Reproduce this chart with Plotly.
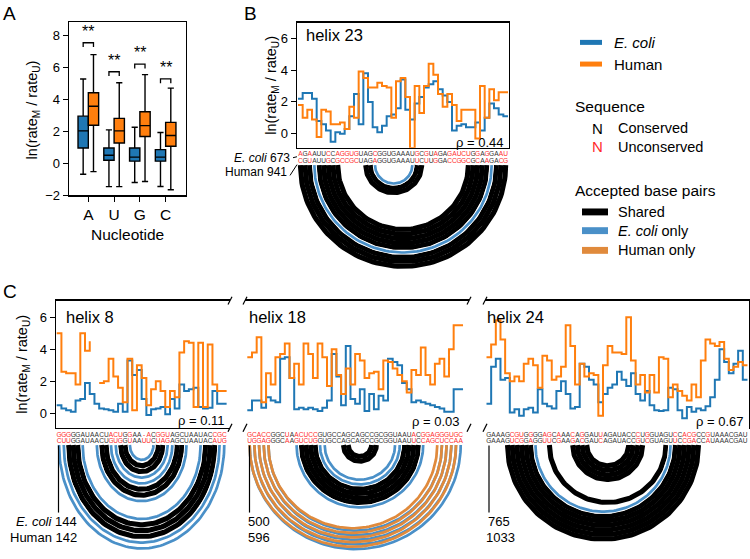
import plotly.graph_objects as go
import numpy as np

W, H = 750, 559
FONT = "Liberation Sans, Arial, sans-serif"
BLUE = "#1f77b4"
ORANGE = "#ff7f0e"
ARC_BLUE = "#4a90c8"
ARC_ORANGE = "#e08a3c"
RED = "#ff2b2b"
SEQ_BLACK = "#333333"

# ---------------- Panel A data ----------------
nucleotides = ["A", "U", "G", "C"]
ecoli_lower = [-0.68, -1.45, -1.19, -1.44]
ecoli_q1 = [0.96, 0.20, 0.14, 0.14]
ecoli_median = [2.03, 0.51, 0.39, 0.39]
ecoli_q3 = [2.95, 0.96, 0.96, 0.86]
ecoli_upper = [5.27, 2.09, 2.26, 1.93]
human_lower = [-0.51, -1.45, -1.13, -1.64]
human_q1 = [2.38, 1.27, 1.68, 1.07]
human_median = [3.57, 2.03, 2.36, 1.74]
human_q3 = [4.41, 2.81, 3.22, 2.56]
human_upper = [6.79, 5.03, 5.54, 4.70]
sig_labels = ["**", "**", "**", "**"]
sig_y = [7.53, 5.72, 6.19, 5.27]

# ---------------- Panel B data (helix 23) ----------------
B_ecoli_seq = "AGAAUUCCAGGUGUAGCGGUGAAAUGCGUAGAGAUCUGGAGGAAU"
B_human_seq = "CGUAUUGCGCCGCUAGAGGUGAAAUUCUUGGACCGGCGCAAGACG"
B_ecoli = [2.2, 2.55, 2.55, 2.2, 0.8, 0.6, 0.2, -0.5, 0.1, 0.0,
           0.3, 1.1, 2.5, 0.6, 3.8, 2.0, 0.4, 0.1, 0.5, 1.1,
           1.2, 1.6, 3.4, 1.5, 0.9, 1.9, 2.3, 2.9, 3.1, 3.3,
           2.8, 2.4, 2.0, 0.2, 0.5, 0.6, 0.4, 0.4, 0.7, 0.2,
           1.0, 1.9, 1.6, 1.2, 1.1]
B_human = [1.8, 1.0, 1.5, 0.9, -0.2, 1.5, 1.4, 0.6, 0.6, 0.7,
           0.3, 1.7, 1.0, 3.9, 3.5, 2.9, 2.9, 3.2, 3.0, 2.9,
           1.0, 3.3, 3.5, 2.3, -0.9, 3.0, 1.3, 3.0, 4.4, 3.7,
           2.5, 1.7, 2.5, 1.8, 0.8, 1.5, 1.5, 1.5, -0.3, 3.0,
           1.0, 2.8, 2.1, 2.6, 2.6]
B_shared_pairs = [(1, 45), (2, 44), (3, 43), (5, 41), (6, 40), (7, 39), (8, 38), (9, 37),
                  (15, 27), (16, 26)]
B_ecoli_pairs = [(4, 42), (17, 25)]
B_human_pairs = []

# ---------------- Panel C data ----------------
C1_ecoli_seq = "GGGGGAUAACUACUGGAA-ACGGUAGCUAAUACCGC"
C1_human_seq = "CUUGGAUAACUGUGGUAAUUCUAGAGCUAAUACAUG"
C1_ecoli = [0.5, 0.3, 0.2, 0.1, 0.8, 0.9, 1.9, 1.2, 0.6, 0.3,
            0.25, 0.2, 0.1, 0.6, 0.1, 3.3, 2.4, 2.7, 0.9, -0.1,
            0.25, 0.3, 0.4, -0.05, 0.9, 0.3, 1.8, 1.4, 1.5, 1.6,
            0.4, 0.3, 0.35, 1.4, 0.6, 0.6]
C1_human = [5.0, 2.6, 2.5, 2.5, 1.8, 5.0, 3.9, 4.5, None, 1.9,
            2.0, 3.4, 2.3, 1.6, 0.7, 3.4, 0.2, 3.0, 2.2, 0.5,
            1.5, 2.0, 1.4, 0.4, 1.4, 1.0, 3.8, 4.5, 4.4, 0.4,
            4.4, 0.4, 4.3, 1.8, 1.4, 1.4]
C1_shared_pairs = [(3, 34), (4, 33), (5, 32), (10, 27), (11, 26), (14, 23), (15, 22)]
C1_ecoli_pairs = [(1, 36), (2, 35), (6, 31), (9, 28), (12, 25), (13, 24), (16, 21)]
C1_human_pairs = []

C2_ecoli_seq = "GCACCGGCUAACUCCGUGCCAGCAGCCGCGGUAAUACGGAGGGUGC"
C2_human_seq = "UGGAGGGCAAGUCUGGUGCCAGCAGCCGCGGUAAUUCCAGCUCCAA"
C2_ecoli = [0.2, 0.8, 0.8, 0.35, 1.0, 0.8, 0.7, 3.4, 3.5, 2.2,
            0.25, 0.35, 0.25, 0.35, 0.25, 0.15, 0.35, 0.8, 3.7, 2.3,
            0.5, 4.2, 0.9, 0.6, 1.5, 0.15, 1.2, 0.25, 1.1, 0.8,
            3.4, 3.2, 3.0, 1.9, 1.5, 0.7, 0.8, 0.7, 0.6, 0.5,
            0.4, 0.3, 0.1, 0.1, 1.5, 1.5]
C2_human = [3.5, 3.8, 4.75, 0.7, 2.5, 1.8, 3.5, 3.7, 4.35, 2.2,
            3.1, 1.8, 4.35, 3.7, 2.2, 4.35, 3.5, 1.7, 4.0, 2.4,
            1.2, 2.8, 1.8, 3.7, 3.3, 2.2, 2.5, 2.6, 1.5, 3.3,
            3.2, 2.8, 2.4, 2.0, 1.3, 2.7, 2.4, 4.1, 2.4, 1.8,
            3.1, 3.4, 2.3, 4.0, 5.5, 5.5]
C2_shared_pairs = [(12, 37), (13, 36), (14, 35), (15, 34), (21, 28), (22, 27)]
C2_ecoli_pairs = [(1, 46), (2, 45), (3, 44), (4, 43), (5, 42), (11, 38), (16, 33), (17, 32)]
C2_human_pairs = [(1, 45), (2, 44), (3, 43), (4, 42), (5, 41)]

C3_ecoli_seq = "GAAAGCGUGGGGAGCAAACAGGAUUAGAUACCCUGGUAGUCCACGCCGUAAACGAU"
C3_human_seq = "GAAAGUCGGAGGUUCGAAGACGAUCAGAUACCGUCGUAGUUCCGACCAUAAACGAU"
C3_ecoli = [0.6, 2.9, 3.4, 2.1, 2.2, 0.05, 0.25, -0.15, 0.25, 0.35,
            0.05, 1.5, 0.6, 0.45, 0.3, 1.4, 2.0, 1.2, 0.3, 0.4,
            3.1, 2.9, 2.1, 1.8, 0.7, 1.2, 1.6, 1.8, 2.6, 2.1,
            1.7, 2.5, 1.2, 0.8, 1.4, 0.5, 0.2, 0.15, 0.2, 1.6,
            1.5, 0.2, -0.3, 0.4, 0.1, 0.3, 0.2, 0.45, 1.0, 2.1,
            4.0, 3.2, 2.5, 3.1, 3.9, 2.1]
C3_human = [3.5, 4.3, 5.8, 4.6, 2.5, 2.0, 2.3, 2.0, 3.1, 3.4,
            3.0, 1.6, 3.6, 3.3, 2.1, 2.3, 2.9, 5.5, 4.2, 1.8,
            3.1, 2.3, 2.5, 2.4, -0.15, 3.0, 4.2, 3.8, 3.8, 3.7,
            6.0, 3.3, 1.8, 2.4, 1.3, 2.4, 1.3, 3.5, 3.4, 1.0,
            1.8, 1.4, 1.1, 0.8, 1.8, 1.0, 3.3, 4.6, 4.35, 4.2,
            4.45, 3.4, 2.7, 2.9, 3.2, 3.0]
C3_shared_pairs = [(5, 46), (6, 45), (7, 44), (8, 43), (9, 42), (10, 41), (14, 39),
                   (19, 34), (20, 33), (21, 32), (22, 31)]
C3_ecoli_pairs = [(11, 40)]
C3_human_pairs = []

helix_names = ["helix 23", "helix 8", "helix 18", "helix 24"]
rho_labels = ["ρ = 0.44", "ρ = 0.11", "ρ = 0.03", "ρ = 0.67"]
ecoli_starts = ["673", "144", "500", "765"]
human_starts = ["941", "142", "596", "1033"]
ytick_vals = [0, 2, 4, 6]

# ---------------- helpers ----------------
def xd(a, b):
    return [a / W, b / W]

def yd(top, bottom):
    return [1 - bottom / H, 1 - top / H]

fig = go.Figure()
layout = dict(width=W, height=H, margin=dict(l=0, r=0, t=0, b=0),
              paper_bgcolor="white", plot_bgcolor="white", showlegend=False,
              font=dict(family=FONT, color="black"))
shapes = []
annotations = []

def ax_name(k, kind):
    return kind + ("" if k == 1 else str(k))

def hidden_axis(**kw):
    d = dict(showline=False, showgrid=False, zeroline=False, ticks="",
             showticklabels=False, fixedrange=True)
    d.update(kw)
    return d

def ptext(x, y, text, size, xanchor="left", color="black", yanchor="middle", angle=0):
    annotations.append(dict(x=x / W, y=1 - y / H, xref="paper", yref="paper", text=text,
                            showarrow=False, xanchor=xanchor, yanchor=yanchor, textangle=angle,
                            align=xanchor, borderpad=0,
                            font=dict(size=size, color=color)))

# ---------------- Panel A ----------------
xA = [i - 0.2 for i in range(4)]
xA2 = [i + 0.2 for i in range(4)]
fig.add_trace(go.Box(x=xA, q1=ecoli_q1, median=ecoli_median, q3=ecoli_q3,
                     lowerfence=ecoli_lower, upperfence=ecoli_upper, width=0.4,
                     fillcolor=BLUE, line=dict(color="black", width=1.4),
                     whiskerwidth=0.6, boxpoints=False, xaxis="x", yaxis="y"))
fig.add_trace(go.Box(x=xA2, q1=human_q1, median=human_median, q3=human_q3,
                     lowerfence=human_lower, upperfence=human_upper, width=0.4,
                     fillcolor=ORANGE, line=dict(color="black", width=1.4),
                     whiskerwidth=0.6, boxpoints=False, xaxis="x", yaxis="y"))
layout["xaxis"] = dict(domain=xd(69, 186), range=[-0.75, 3.79], tickvals=[0, 1, 2, 3],
                       ticktext=nucleotides, ticks="outside", ticklen=5, tickcolor="black",
                       showline=True, mirror=True, linecolor="black", linewidth=1.3,
                       showgrid=False, zeroline=False, tickfont=dict(size=15.5),
                       anchor="y", fixedrange=True)
layout["yaxis"] = dict(domain=yd(22.7, 198.3), range=[-2, 8.8], tickvals=[-2, 0, 2, 4, 6, 8],
                       ticks="outside", ticklen=5, tickcolor="black", showline=True,
                       mirror=True, linecolor="black", linewidth=1.3, showgrid=False,
                       zeroline=False, tickfont=dict(size=13), anchor="x", fixedrange=True)
for i in range(4):
    y0 = sig_y[i]
    shapes.append(dict(type="path", xref="x", yref="y",
                       path=f"M {xA[i]} {y0-0.27} L {xA[i]} {y0} L {xA2[i]} {y0} L {xA2[i]} {y0-0.27}",
                       line=dict(color="black", width=1.3)))
    annotations.append(dict(x=i, y=y0 + 0.05, xref="x", yref="y", text=sig_labels[i],
                            showarrow=False, xanchor="center", yanchor="bottom", font=dict(size=16)))
ptext(127.5, 238, "Nucleotide", 15.5, xanchor="center")
ptext(33, 112, "ln(rate<sub>M</sub> / rate<sub>U</sub>)", 14.5, xanchor="center", angle=-90)

# ---------------- step + arc panels ----------------
def step_xy(vals):
    xs = [i + 0.5 for i in range(len(vals) + 1)]
    ys = [(np.nan if v is None else v) for v in vals] + [vals[-1]]
    return xs, ys

def arc_xy(pairs, vscale):
    xs, ys = [], []
    th = np.linspace(0, np.pi, 90)
    for (i, j) in pairs:
        c = (i + j) / 2.0
        r = (j - i) / 2.0
        xs += list(c - r * np.cos(th)) + [None]
        ys += list(-r * np.sin(th) * vscale) + [None]
    return xs, ys

def make_panel(k, pxl, pxr, nt_left_px, ppn, top, bottom, yrange, ecoli_vals, human_vals,
               ecoli_seq, human_seq, shared, eco_only, hum_only, arcs_top, row1, row2,
               vscale, showy, style):
    xr = [0.5 - (nt_left_px - pxl) / ppn, 0.5 + (pxr - nt_left_px) / ppn]
    xa = ax_name(k, "x"); ya = ax_name(k, "y")
    xa2 = ax_name(k + 1, "x"); ya2 = ax_name(k + 1, "y")
    xs, ys = step_xy(ecoli_vals)
    fig.add_trace(go.Scatter(x=xs, y=ys, mode="lines", line=dict(color=BLUE, width=2, shape="hv"),
                             connectgaps=False, xaxis=xa, yaxis=ya, hoverinfo="skip"))
    xs, ys = step_xy(human_vals)
    fig.add_trace(go.Scatter(x=xs, y=ys, mode="lines", line=dict(color=ORANGE, width=2, shape="hv"),
                             connectgaps=False, xaxis=xa, yaxis=ya, hoverinfo="skip"))
    xdict = dict(domain=xd(pxl, pxr), range=xr, showgrid=False, zeroline=False, ticks="",
                 showticklabels=False, anchor=ya, fixedrange=True,
                 showline=True, mirror=True, linecolor="black", linewidth=1.3)
    ydict = dict(domain=yd(top, bottom), range=yrange, showgrid=False, zeroline=False,
                 anchor=xa, fixedrange=True, linecolor="black", linewidth=1.3)
    if showy:
        ydict.update(tickvals=ytick_vals, ticks="outside", ticklen=5, tickcolor="black",
                     showline=True, mirror=(style == "box"), tickfont=dict(size=13))
    else:
        ydict.update(ticks="", showticklabels=False,
                     showline=(style == "right"), side=("right" if style == "right" else "left"))
    layout["xaxis" + str(k)] = xdict
    layout["yaxis" + str(k)] = ydict
    arc_bottom = H
    yr2 = [-(arc_bottom - arcs_top) / ppn, (arcs_top - bottom) / ppn]
    layout["xaxis" + str(k + 1)] = hidden_axis(domain=xd(pxl, pxr), range=xr, anchor=ya2)
    layout["yaxis" + str(k + 1)] = hidden_axis(domain=yd(bottom, arc_bottom), range=yr2, anchor=xa2)
    ax, ay = arc_xy(shared, vscale)
    fig.add_trace(go.Scatter(x=ax, y=ay, mode="lines", line=dict(color="black", width=ppn + 0.4),
                             xaxis=xa2, yaxis=ya2, hoverinfo="skip"))
    colored = eco_only + hum_only
    if colored:
        ax, ay = arc_xy(colored, vscale)
        fig.add_trace(go.Scatter(x=ax, y=ay, mode="lines", line=dict(color="white", width=ppn),
                                 xaxis=xa2, yaxis=ya2, hoverinfo="skip"))
    if eco_only:
        ax, ay = arc_xy(eco_only, vscale)
        fig.add_trace(go.Scatter(x=ax, y=ay, mode="lines", line=dict(color=ARC_BLUE, width=ppn * 0.58),
                                 xaxis=xa2, yaxis=ya2, hoverinfo="skip"))
    if hum_only:
        ax, ay = arc_xy(hum_only, vscale)
        fig.add_trace(go.Scatter(x=ax, y=ay, mode="lines", line=dict(color=ARC_ORANGE, width=ppn * 0.58),
                                 xaxis=xa2, yaxis=ya2, hoverinfo="skip"))
    cols = [SEQ_BLACK if a == b else RED for a, b in zip(ecoli_seq, human_seq)]
    pos = list(range(1, len(ecoli_seq) + 1))
    for seq, rowpx in ((ecoli_seq, row1), (human_seq, row2)):
        fig.add_trace(go.Scatter(x=pos, y=[(arcs_top - rowpx) / ppn] * len(seq), mode="text",
                                 text=list(seq), textposition="middle center",
                                 textfont=dict(size=6.6, color=cols, family=FONT),
                                 cliponaxis=False, xaxis=xa2, yaxis=ya2, hoverinfo="skip"))

# Panel B
make_panel(2, 297, 509, 298, 4.667, 23, 150, [-0.885, 6.97], B_ecoli, B_human,
           B_ecoli_seq, B_human_seq, B_shared_pairs, B_ecoli_pairs, B_human_pairs,
           167.5, 157, 163.5, 1.0, True, "box")
# Panel C
CTOP, CBOT = 305, 434
CYR = [-0.90, 7.03]
make_panel(4, 56, 230, 56.7, 4.72, CTOP, CBOT, CYR, C1_ecoli, C1_human,
           C1_ecoli_seq, C1_human_seq, C1_shared_pairs, C1_ecoli_pairs, C1_human_pairs,
           451.5, 441.5, 447.5, 1.27, True, "left")
make_panel(6, 245, 469, 247.3, 4.69, CTOP, CBOT, CYR, C2_ecoli, C2_human,
           C2_ecoli_seq, C2_human_seq, C2_shared_pairs, C2_ecoli_pairs, C2_human_pairs,
           451.5, 441.5, 447.5, 1.0, False, "none")
make_panel(8, 485, 749, 486.5, 4.66, CTOP, CBOT, CYR, C3_ecoli, C3_human,
           C3_ecoli_seq, C3_human_seq, C3_shared_pairs, C3_ecoli_pairs, C3_human_pairs,
           451.5, 441.5, 447.5, 1.0, False, "right")

for name, x, y in zip(helix_names, [305, 65, 248, 486], [36, 322, 322, 322]):
    ptext(x, y, name, 16.5)
for lab, x, y in zip(rho_labels, [505, 226, 461, 745], [145, 427, 428, 428]):
    ptext(x, y, lab, 13, xanchor="right")

# y-axis titles B and C
ptext(272, 87, "ln(rate<sub>M</sub> / rate<sub>U</sub>)", 14.5, xanchor="center", angle=-90)
ptext(23, 370, "ln(rate<sub>M</sub> / rate<sub>U</sub>)", 14.5, xanchor="center", angle=-90)

# panel letters
ptext(2, 14, "A", 19)
ptext(243, 14, "B", 19)
ptext(2, 296, "C", 19)

# B labels
ptext(291, 160.5, "<i>E. coli</i> " + ecoli_starts[0], 12, xanchor="right")
ptext(288, 175, "Human " + human_starts[0], 12, xanchor="right")
shapes.append(dict(type="line", xref="paper", yref="paper", x0=293 / W, x1=297 / W,
                   y0=1 - 160 / H, y1=1 - 159 / H, line=dict(color="black", width=1)))
shapes.append(dict(type="line", xref="paper", yref="paper", x0=290 / W, x1=297 / W,
                   y0=1 - 178 / H, y1=1 - 167 / H, line=dict(color="black", width=1)))

# C labels with markers
for (lx, ex, hx, anchor, estart, hstart) in ((58.5, 78, 78, "right", "<i>E. coli</i> " + ecoli_starts[1], "Human " + human_starts[1]),
                                             (249.5, 247, 247, "left", ecoli_starts[2], human_starts[2]),
                                             (489, 487, 485, "left", ecoli_starts[3], human_starts[3])):
    shapes.append(dict(type="line", xref="paper", yref="paper", x0=lx / W, x1=lx / W,
                       y0=1 - 452 / H, y1=1 - 520 / H, line=dict(color="black", width=1.2)))
    ptext(ex, 529, estart, 13, xanchor=anchor)
    ptext(hx, 545, hstart, 13, xanchor=anchor)

# break marks
for bx in (230, 245, 469, 485):
    for by in (CTOP, CBOT):
        shapes.append(dict(type="line", xref="paper", yref="paper", x0=(bx - 2) / W, x1=(bx + 2) / W,
                           y0=1 - (by + 4) / H, y1=1 - (by - 4) / H, line=dict(color="black", width=1.2)))

# ---------------- Legend ----------------
legend_series = [("<i>E. coli</i>", BLUE, 43), ("Human", ORANGE, 65)]
for lab, col, y in legend_series:
    shapes.append(dict(type="line", xref="paper", yref="paper", x0=580 / W, x1=602 / W,
                       y0=1 - y / H, y1=1 - y / H, line=dict(color=col, width=5)))
    ptext(613, y, lab, 15)
ptext(574, 108, "Sequence", 15.5)
ptext(597, 130, "N", 15, xanchor="center")
ptext(617, 130, "Conserved", 14.5)
ptext(597, 149, "N", 15, xanchor="center", color=RED)
ptext(617, 149, "Unconserved", 14.5)
ptext(574, 193, "Accepted base pairs", 15.5)
legend_pairs = [("Shared", "black", 215), ("<i>E. coli</i> only", ARC_BLUE, 234), ("Human only", ARC_ORANGE, 254)]
for lab, col, y in legend_pairs:
    shapes.append(dict(type="rect", xref="paper", yref="paper", x0=582 / W, x1=608 / W,
                       y0=1 - (y + 3.5) / H, y1=1 - (y - 3.5) / H, fillcolor=col, line=dict(width=0)))
    ptext(617, y, lab, 14.5)

layout["shapes"] = shapes
layout["annotations"] = annotations
fig.update_layout(**layout)
fig.write_html("out.html", config={"displayModeBar": False, "staticPlot": True},
               post_script="document.body.style.margin='0px';document.body.style.overflow='hidden';")
